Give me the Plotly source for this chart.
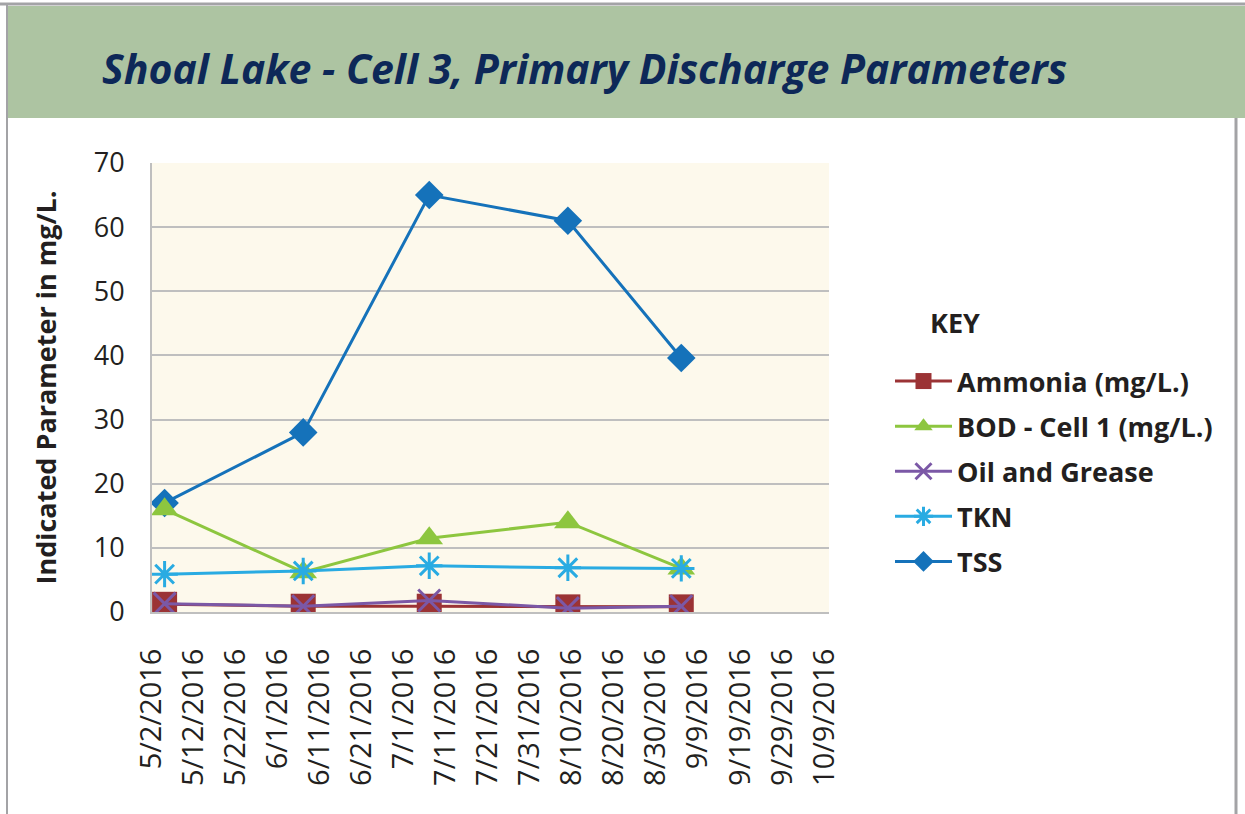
import plotly.graph_objects as go

# ---- data ----
dates = ["2016-05-05", "2016-06-07", "2016-07-07", "2016-08-09", "2016-09-05"]
ammonia = [1.2, 0.9, 0.9, 0.8, 0.8]
bod = [16.0, 6.2, 11.5, 14.0, 6.8]
oil = [1.3, 0.9, 1.8, 0.6, 0.9]
tkn = [5.9, 6.4, 7.2, 6.9, 6.8]
tss = [17.0, 28.0, 65.0, 61.0, 39.6]

series_names = ["Ammonia (mg/L.)", "BOD - Cell 1 (mg/L.)", "Oil and Grease", "TKN", "TSS"]
y_ticks = [0, 10, 20, 30, 40, 50, 60, 70]
title_text = "Shoal Lake - Cell 3, Primary Discharge Parameters"
y_title = "Indicated Parameter in mg/L."

# ---- layout geometry (pixels) ----
W, H = 1245, 814
L, R, T, B = 152, 829, 163, 612

def px(x):
    return (x - L) / (R - L)

def py(y):
    return (B - y) / (B - T)

fig = go.Figure()

def add(name, y, color, symbol, size, rank, lw=3, mline=None):
    marker = dict(symbol=symbol, size=size, color=color)
    if mline:
        marker["line"] = dict(color=color, width=mline)
    fig.add_trace(go.Scatter(
        x=dates, y=y, name=name, mode="lines+markers",
        line=dict(color=color, width=lw), marker=marker,
        legendrank=rank, legendgroup=name,
    ))

add(series_names[4], tss, "#1572ba", "diamond", 22, 5)
add(series_names[0], ammonia, "#9b3335", "square", 25, 1)
add(series_names[1], bod, "#8dc63f", "triangle-up", 24, 2)
add(series_names[2], oil, "#7b58a6", "x-thin-open", 22, 3, mline=3)
add(series_names[3], tkn, "#29abe2", "asterisk-open", 22, 4, mline=3)

shapes = [
    # green title banner
    dict(type="rect", xref="paper", yref="paper", x0=px(7), x1=px(1245), y0=py(118), y1=py(6),
         fillcolor="#adc4a2", line=dict(width=0), layer="below"),
    # frame lines
    dict(type="line", xref="paper", yref="paper", x0=px(0), x1=px(1245), y0=py(4), y1=py(4),
         line=dict(color="#a3a3a6", width=3)),
    dict(type="line", xref="paper", yref="paper", x0=px(7), x1=px(7), y0=py(4), y1=py(814),
         line=dict(color="#a3a3a6", width=2)),
    dict(type="line", xref="paper", yref="paper", x0=px(1236), x1=px(1236), y0=py(118), y1=py(814),
         line=dict(color="#a3a3a6", width=3)),
]

annotations = [
    dict(text="<b><i>" + title_text + "</i></b>", xref="paper", yref="paper",
         x=px(100), y=py(68), xanchor="left", yanchor="middle", showarrow=False,
         font=dict(family="Open Sans", size=41, color="#0d2858")),
    dict(text="<b>KEY</b>", xref="paper", yref="paper", x=px(928), y=py(322),
         xanchor="left", yanchor="middle", showarrow=False,
         font=dict(family="Open Sans", size=27, color="#231f20")),
]

fig.update_layout(
    width=W, height=H,
    margin=dict(l=L, r=W - R, t=T, b=H - B),
    paper_bgcolor="white", plot_bgcolor="#fdf9ec",
    showlegend=True,
    legend=dict(x=px(890), y=py(357), xanchor="left", yanchor="top",
                font=dict(family="Open Sans", size=27, color="#231f20", weight="bold"),
                tracegroupgap=7, itemwidth=57, bgcolor="rgba(0,0,0,0)"),
    shapes=shapes, annotations=annotations,
)

fig.update_xaxes(
    type="date", range=["2016-05-02", "2016-10-10 04:00"],
    tick0="2016-05-02", dtick=864000000, tickformat="%-m/%-d/%Y",
    tickangle=-90, showgrid=False, showline=True, linecolor="#bfbfbf", linewidth=2,
    ticks="", ticklabelstandoff=23,
    tickfont=dict(family="Open Sans", size=29, color="#231f20"),
)
fig.update_yaxes(
    range=[0, 70], tickvals=y_ticks, showgrid=True, gridcolor="#bfbfbf", gridwidth=2,
    showline=True, linecolor="#bfbfbf", linewidth=2, zeroline=False, ticks="",
    ticklabelstandoff=20,
    tickfont=dict(family="Open Sans", size=27, color="#231f20"),
    title=dict(text="<b>" + y_title + "</b>", standoff=29,
               font=dict(family="Open Sans", size=27, color="#231f20")),
)

fig.write_html("out.html", config={"displayModeBar": False},
               post_script="document.body.style.margin='0';")
